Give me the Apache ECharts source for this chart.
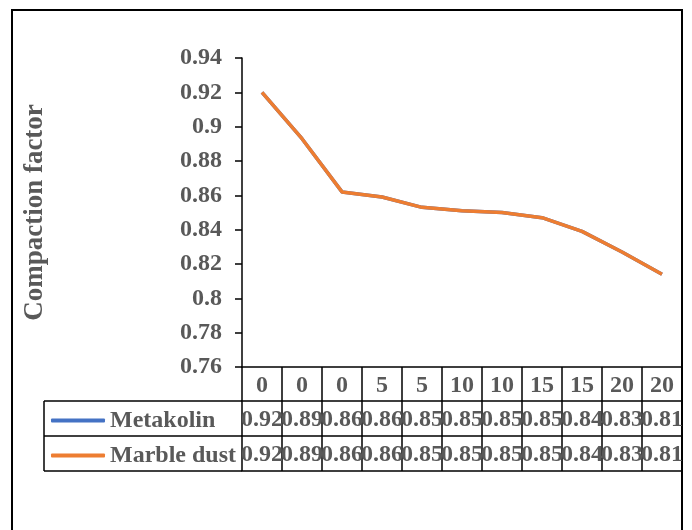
<!DOCTYPE html>
<html>
<head>
<meta charset="utf-8">
<script src="https://cdn.jsdelivr.net/npm/echarts@6/dist/echarts.min.js"></script>
<style>
html,body{margin:0;padding:0;background:#fff;}
#c{width:692px;height:530px;}
</style>
</head>
<body>
<div id="c"></div>
<script>
// ---- data ----
const categories = ['0', '0', '0', '5', '5', '10', '10', '15', '15', '20', '20'];
const metakolin = [0.920, 0.893, 0.862, 0.859, 0.853, 0.851, 0.850, 0.847, 0.839, 0.827, 0.814];
const marbleDust = [0.920, 0.893, 0.862, 0.859, 0.853, 0.851, 0.850, 0.847, 0.839, 0.827, 0.814];
const seriesNames = ['Metakolin', 'Marble dust'];
const yAxisTitle = 'Compaction factor';
const yMin = 0.76, yMax = 0.94, yStep = 0.02;

// ---- layout ----
const FONT = '"Liberation Serif","Times New Roman",serif';
const GRAY = '#595959';
const gridLeft = 242, gridRight = 682, gridTop = 58, gridBottom = 367;
const rowH = [34, 35, 35];
const tableLeft = 44;

const chart = echarts.init(document.getElementById('c'));

function tableAxis(data, offset, height, showLabel) {
  return {
    type: 'category',
    data: data,
    position: 'bottom',
    offset: offset,
    boundaryGap: true,
    axisLine: {show: true, lineStyle: {color: '#000', width: 1.5}},
    axisTick: {show: true, interval: 0, length: height, lineStyle: {color: '#000', width: 1.5}},
    axisLabel: {
      show: showLabel, interval: 0, margin: height / 2 + 1.5, verticalAlign: 'middle',
      fontFamily: FONT, fontWeight: 'bold', fontSize: 24, color: GRAY
    },
    splitLine: {show: false}
  };
}

const fmt = v => v.toFixed(2);

const y1 = gridBottom + rowH[0];
const y2 = y1 + rowH[1];
const y3 = y2 + rowH[2];

chart.setOption({
  animation: false,
  backgroundColor: '#fff',
  grid: {left: gridLeft, right: 692 - gridRight, top: gridTop, bottom: 530 - gridBottom, containLabel: false},
  xAxis: [
    tableAxis(categories, 0, rowH[0], true),
    tableAxis(metakolin.map(fmt), rowH[0], rowH[1], true),
    tableAxis(marbleDust.map(fmt), rowH[0] + rowH[1], rowH[2], true),
    Object.assign(tableAxis(categories, rowH[0] + rowH[1] + rowH[2], 0, false), {axisTick: {show: false}})
  ],
  yAxis: {
    type: 'value',
    min: yMin, max: yMax, interval: yStep,
    name: yAxisTitle,
    nameLocation: 'middle',
    nameRotate: 90,
    nameGap: 193,
    nameTextStyle: {fontFamily: FONT, fontWeight: 'bold', fontSize: 27, color: GRAY},
    axisLine: {show: true, lineStyle: {color: '#000', width: 1.5}},
    axisTick: {show: true, length: 7, lineStyle: {color: '#000', width: 1.5}},
    axisLabel: {margin: 20, fontFamily: FONT, fontWeight: 'bold', fontSize: 24, color: GRAY,
      formatter: v => String(parseFloat(v.toFixed(2)))},
    splitLine: {show: false}
  },
  legend: {
    orient: 'vertical',
    left: 51,
    top: y1 + rowH[1] / 2 - 10,
    padding: 0,
    itemGap: 11,
    itemWidth: 54,
    itemHeight: 4,
    icon: 'roundRect',
    textStyle: {fontFamily: FONT, fontWeight: 'bold', fontSize: 24, color: GRAY, lineHeight: 24},
    data: seriesNames
  },
  series: [
    {name: seriesNames[0], type: 'line', data: metakolin, symbol: 'none', showSymbol: false,
      itemStyle: {color: '#4472C4'}, lineStyle: {color: '#4472C4', width: 3.5}},
    {name: seriesNames[1], type: 'line', data: marbleDust, symbol: 'none', showSymbol: false,
      itemStyle: {color: '#ED7D31'}, lineStyle: {color: '#ED7D31', width: 3.5}}
  ],
  graphic: [
    {type: 'rect', shape: {x: 12, y: 10, width: 670, height: 540}, style: {fill: 'none', stroke: '#000', lineWidth: 2}, silent: true},
    {type: 'line', shape: {x1: tableLeft, y1: y1, x2: gridLeft, y2: y1}, style: {stroke: '#000', lineWidth: 1.5}},
    {type: 'line', shape: {x1: tableLeft, y1: y2, x2: gridLeft, y2: y2}, style: {stroke: '#000', lineWidth: 1.5}},
    {type: 'line', shape: {x1: tableLeft, y1: y3, x2: gridLeft, y2: y3}, style: {stroke: '#000', lineWidth: 1.5}},
    {type: 'line', shape: {x1: tableLeft, y1: y1, x2: tableLeft, y2: y3}, style: {stroke: '#000', lineWidth: 1.5}}
  ]
});
</script>
</body>
</html>
